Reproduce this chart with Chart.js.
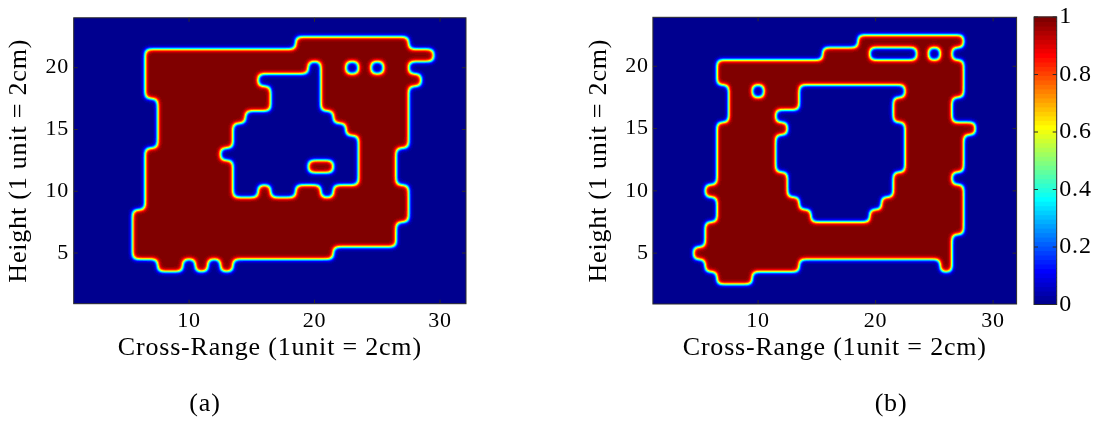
<!DOCTYPE html>
<html>
<head>
<meta charset="utf-8">
<script src="https://cdn.jsdelivr.net/npm/chart.js@4.4.1/dist/chart.umd.min.js"></script>
<style>
  html, body { margin: 0; padding: 0; background: #fff; }
  #wrap { position: relative; width: 1096px; height: 422px; overflow: hidden; }
  .box { position: absolute; top: 0; height: 422px; }
  #boxA { left: 0; width: 548px; }
  #boxB { left: 548px; width: 480px; }
  #boxC { left: 1028px; width: 68px; }
</style>
</head>
<body>
<div id="wrap">
  <div class="box" id="boxA"><canvas id="chartA"></canvas></div>
  <div class="box" id="boxB"><canvas id="chartB"></canvas></div>
  <div class="box" id="boxC"><canvas id="chartC"></canvas></div>
</div>
<script>
// Grid size of both reconstructions (cells are centred on integer coordinates)
const gridCols = 32;
const gridRows = 24;

// Reconstruction (a): occupied runs [row, firstColumn, lastColumn]
const solidA = [
  [22, 19, 27], [21, 7, 29], [20, 7, 27], [19, 7, 28], [18, 7, 27],
  [17, 8, 27], [16, 8, 27], [15, 8, 27], [14, 8, 27],
  [13, 7, 26], [12, 7, 26], [11, 7, 26],
  [10, 7, 27], [9, 7, 27], [8, 6, 27],
  [7, 6, 26], [6, 6, 26], [5, 6, 21],
  [4, 8, 9], [4, 11, 11], [4, 13, 13]
];
// Reconstruction (a): empty runs cut out of the occupied area
const voidA = [
  [20, 20, 20], [20, 23, 23], [20, 25, 25],
  [19, 16, 20], [18, 17, 20], [17, 17, 20],
  [16, 15, 21], [15, 14, 22], [14, 14, 23], [13, 13, 23],
  [12, 14, 19], [12, 22, 23], [11, 14, 23],
  [10, 14, 15], [10, 17, 18], [10, 21, 21]
];

// Reconstruction (b): occupied runs
const solidB = [
  [22, 19, 27], [21, 16, 26], [20, 7, 27], [19, 7, 27], [18, 8, 27],
  [17, 8, 26], [16, 8, 26], [15, 7, 28], [14, 7, 27], [13, 7, 27],
  [12, 7, 27], [11, 7, 26], [10, 6, 27], [9, 7, 27], [8, 7, 27],
  [7, 6, 27], [6, 6, 26], [5, 5, 26],
  [4, 6, 13], [4, 26, 26], [3, 7, 9]
];
// Reconstruction (b): empty runs
const voidB = [
  [21, 20, 23], [21, 25, 25],
  [18, 10, 10], [18, 14, 22], [17, 14, 21], [16, 12, 21], [15, 13, 22],
  [14, 12, 22], [13, 12, 22], [12, 12, 22], [11, 13, 21], [10, 13, 21],
  [9, 14, 20], [8, 15, 19]
];

const xTicks = [10, 20, 30];
const yTicks = [5, 10, 15, 20];
const barTicks = [0, 0.2, 0.4, 0.6, 0.8, 1];

// ---------- helpers ----------
function cellsOf(solid, empty) {
  const on = new Set();
  solid.forEach(([r, a, b]) => { for (let c = a; c <= b; c++) on.add(r * 100 + c); });
  empty.forEach(([r, a, b]) => { for (let c = a; c <= b; c++) on.delete(r * 100 + c); });
  const out = [];
  for (let r = 1; r <= gridRows; r++) {
    for (let c = 1; c <= gridCols; c++) out.push({ x: c, y: r, v: on.has(r * 100 + c) ? 1 : 0 });
  }
  return out;
}

// MATLAB-style jet colormap with m entries
function buildJet(m) {
  const n = Math.ceil(m / 4);
  const u = [];
  for (let i = 1; i <= n; i++) u.push(i / n);
  for (let i = 1; i < n; i++) u.push(1);
  for (let i = n; i >= 1; i--) u.push(i / n);
  const base = Math.ceil(n / 2) - (m % 4 === 1 ? 1 : 0);
  const g = u.map((_, k) => base + k + 1);
  const r = g.map(v => v + n).filter(v => v <= m);
  const b = g.map(v => v - n).filter(v => v >= 1);
  const gg = g.filter(v => v <= m);
  const J = Array.from({ length: m }, () => [0, 0, 0]);
  r.forEach((idx, k) => { J[idx - 1][0] = u[k]; });
  gg.forEach((idx, k) => { J[idx - 1][1] = u[k]; });
  b.forEach((idx, k) => { J[idx - 1][2] = u[u.length - b.length + k]; });
  return J.map(c => c.map(v => Math.round(v * 255)));
}
const jet = buildJet(64);
const jetIndex = v => Math.min(63, Math.max(0, Math.floor(v * 64)));

function erf(x) {
  const s = x < 0 ? -1 : 1;
  x = Math.abs(x);
  const t = 1 / (1 + 0.3275911 * x);
  const y = 1 - (((((1.061405429 * t - 1.453152027) * t) + 1.421413741) * t - 0.284496736) * t + 0.254829592) * t * Math.exp(-x * x);
  return s * y;
}
const Phi = z => 0.5 * (1 + erf(z / Math.SQRT2));

// weights of the cells around a coordinate for a gaussian-softened cell edge
function cellWeights(val, sigma, count) {
  const c0 = Math.round(val);
  const out = [];
  for (let k = -3; k <= 3; k++) {
    const c = c0 + k;
    if (c < 1 || c > count) continue;
    const w = Phi((val - c + 0.5) / sigma) - Phi((val - c - 0.5) / sigma);
    if (w > 1e-6) out.push([c, w]);
  }
  return out;
}

// ---------- plugins ----------
// smoothed occupancy: blur the cell grid, then sharpen around the 0.5 level
const levelField = {
  id: 'levelField',
  beforeDatasetsDraw(chart, args, opts) {
    const ds = chart.data.datasets[0];
    if (!ds) return;
    const { ctx, chartArea: a, scales: { x, y } } = chart;
    const grid = new Float32Array((gridRows + 1) * (gridCols + 1));
    ds.data.forEach(p => { grid[p.y * (gridCols + 1) + p.x] = p.v; });

    const lo = Phi(-0.5 / opts.edge), hi = Phi(0.5 / opts.edge);
    const x0 = Math.floor(a.left), x1 = Math.ceil(a.right);
    const y0 = Math.floor(a.top), y1 = Math.ceil(a.bottom);
    const w = x1 - x0, h = y1 - y0;
    const cols = [], rows = [];
    for (let i = 0; i < w; i++) cols.push(cellWeights(x.getValueForPixel(x0 + i + 0.5), opts.sigma, gridCols));
    for (let j = 0; j < h; j++) rows.push(cellWeights(y.getValueForPixel(y0 + j + 0.5), opts.sigma, gridRows));

    const off = document.createElement('canvas');
    off.width = w; off.height = h;
    const octx = off.getContext('2d');
    const img = octx.createImageData(w, h);
    for (let j = 0; j < h; j++) {
      const rw = rows[j];
      for (let i = 0; i < w; i++) {
        const cw = cols[i];
        let f = 0;
        for (const [r, wr] of rw) {
          const base = r * (gridCols + 1);
          let s = 0;
          for (const [c, wc] of cw) s += grid[base + c] * wc;
          f += s * wr;
        }
        const v = (Phi((f - 0.5) / opts.edge) - lo) / (hi - lo);
        const col = jet[jetIndex(v)];
        const k = (j * w + i) * 4;
        img.data[k] = col[0]; img.data[k + 1] = col[1]; img.data[k + 2] = col[2]; img.data[k + 3] = 255;
      }
    }
    octx.putImageData(img, 0, 0);
    ctx.save();
    ctx.beginPath();
    ctx.rect(a.left, a.top, a.right - a.left, a.bottom - a.top);
    ctx.clip();
    ctx.drawImage(off, x0, y0);
    ctx.restore();
  }
};

// box around the axes with inward tick marks on all four sides
const axesFrame = {
  id: 'axesFrame',
  afterDatasetsDraw(chart, args, opts) {
    const { ctx, chartArea: a, scales: { x, y } } = chart;
    ctx.save();
    ctx.strokeStyle = opts.color;
    ctx.lineWidth = 1;
    ctx.strokeRect(a.left, a.top, a.right - a.left, a.bottom - a.top);
    ctx.beginPath();
    (opts.xTicks || []).forEach(v => {
      const px = x.getPixelForValue(v);
      ctx.moveTo(px, a.bottom); ctx.lineTo(px, a.bottom - opts.len);
      ctx.moveTo(px, a.top); ctx.lineTo(px, a.top + opts.len);
    });
    (opts.yTicks || []).forEach(v => {
      const py = y.getPixelForValue(v);
      ctx.moveTo(a.left, py); ctx.lineTo(a.left + opts.len, py);
      ctx.moveTo(a.right, py); ctx.lineTo(a.right - opts.len, py);
    });
    ctx.stroke();
    ctx.restore();
  }
};

// slightly opened lettering for every label on the canvas
const wideText = {
  id: 'wideText',
  beforeDraw(chart, args, opts) {
    if ('letterSpacing' in chart.ctx) chart.ctx.letterSpacing = opts.spacing;
  }
};

// panel caption under the axis title
const caption = {
  id: 'caption',
  afterDraw(chart, args, opts) {
    if (!opts.text) return;
    const ctx = chart.ctx;
    ctx.save();
    ctx.font = opts.font;
    ctx.fillStyle = '#000';
    ctx.textAlign = 'center';
    ctx.textBaseline = 'middle';
    ctx.fillText(opts.text, opts.x, opts.y);
    ctx.restore();
  }
};

// colour scale strip drawn from the colormap levels
const colorStrip = {
  id: 'colorStrip',
  beforeDatasetsDraw(chart) {
    const ds = chart.data.datasets[0];
    if (!ds) return;
    const { ctx, chartArea: a, scales: { y } } = chart;
    ctx.save();
    ds.data.forEach(p => {
      const top = y.getPixelForValue(p.hi), bot = y.getPixelForValue(p.lo);
      const c = jet[p.level];
      ctx.fillStyle = `rgb(${c[0]},${c[1]},${c[2]})`;
      ctx.fillRect(a.left, top - 0.5, a.right - a.left, bot - top + 1);
    });
    ctx.restore();
  }
};

const serif = "'Liberation Serif', 'Times New Roman', serif";
const tickFont = { family: serif, size: 22 };
const titleFont = { family: serif, size: 26, lineHeight: 1.2 };
const spacing = '0.8px';

function panelConfig(p) {
  return {
    type: 'scatter',
    data: { datasets: [{ data: p.cells, pointRadius: 0, pointHoverRadius: 0, showLine: false }] },
    plugins: [wideText, levelField, axesFrame, caption],
    options: {
      responsive: true,
      maintainAspectRatio: false,
      animation: false,
      events: [],
      layout: { padding: { left: 0, top: p.padTop, right: p.padRight, bottom: p.padBottom } },
      plugins: {
        legend: { display: false },
        tooltip: { enabled: false },
        wideText: { spacing },
        levelField: { sigma: 0.26, edge: 0.24 },
        axesFrame: { color: '#2b2b2b', len: 4, xTicks, yTicks },
        caption: { text: p.caption, x: p.capX, y: p.capY, font: `26px ${serif}` }
      },
      scales: {
        x: {
          type: 'linear', min: p.xMin, max: p.xMax,
          afterBuildTicks: s => { s.ticks = xTicks.map(v => ({ value: v })); },
          afterFit: s => { s.height = p.xAxisH; },
          grid: { display: false, drawTicks: false },
          border: { display: false },
          ticks: { font: tickFont, color: '#000', padding: 3.9, autoSkip: false, maxRotation: 0 },
          title: { display: true, text: 'Cross-Range (1unit = 2cm)', font: titleFont, color: '#000',
                   padding: { top: 0, bottom: p.xTitlePad } }
        },
        y: {
          type: 'linear', min: p.yMin, max: p.yMax,
          afterBuildTicks: s => { s.ticks = yTicks.map(v => ({ value: v })); },
          afterFit: s => { s.width = p.yAxisW; },
          grid: { display: false, drawTicks: false },
          border: { display: false },
          ticks: { font: tickFont, color: '#000', padding: p.yTickPad, autoSkip: false },
          title: { display: true, text: 'Height (1 unit = 2cm)', font: titleFont, color: '#000',
                   padding: { top: p.yTitlePad, bottom: 0 } }
        }
      }
    }
  };
}

new Chart(document.getElementById('chartA'), panelConfig({
  cells: cellsOf(solidA, voidA),
  xMin: 0.81, xMax: 32.07, yMin: 0.9, yMax: 24.04,
  padTop: 13.7, padRight: 82, padBottom: 28.3,
  xAxisH: 90, yAxisW: 73.7, yTickPad: 4.6,
  yTitlePad: 3.8, xTitlePad: 29.8,
  caption: '(a)', capX: 205, capY: 404
}));

new Chart(document.getElementById('chartB'), panelConfig({
  cells: cellsOf(solidB, voidB),
  xMin: 1.05, xMax: 32.0, yMin: 0.92, yMax: 23.93,
  padTop: 15, padRight: 11.4, padBottom: 28,
  xAxisH: 90, yAxisW: 104.9, yTickPad: 4.1,
  yTitlePad: 35.9, xTitlePad: 30.1,
  caption: '(b)', capX: 343, capY: 404
}));

// colour scale beside panel (b)
const barLevels = jet.map((_, k) => ({ x: 0.5, y: (k + 0.5) / 64, lo: k / 64, hi: (k + 1) / 64, level: k }));
new Chart(document.getElementById('chartC'), {
  type: 'scatter',
  data: { datasets: [{ data: barLevels, pointRadius: 0, pointHoverRadius: 0 }] },
  plugins: [wideText, colorStrip, axesFrame],
  options: {
    responsive: true,
    maintainAspectRatio: false,
    animation: false,
    events: [],
    layout: { padding: { left: 6, top: 15, right: 0, bottom: 117.5 } },
    plugins: {
      legend: { display: false },
      tooltip: { enabled: false },
      wideText: { spacing },
      axesFrame: { color: '#2b2b2b', len: 4, xTicks: [], yTicks: barTicks }
    },
    scales: {
      x: { type: 'linear', min: 0, max: 1, display: false },
      y: {
        type: 'linear', position: 'right', min: 0, max: 1,
        afterBuildTicks: s => { s.ticks = barTicks.map(v => ({ value: v })); },
        afterFit: s => { s.width = 39.3; },
        grid: { display: false, drawTicks: false },
        border: { display: false },
        ticks: { font: { family: serif, size: 24 }, color: '#000', padding: 2.6, autoSkip: false,
                 callback: v => String(v) }
      }
    }
  }
});
</script>
</body>
</html>
